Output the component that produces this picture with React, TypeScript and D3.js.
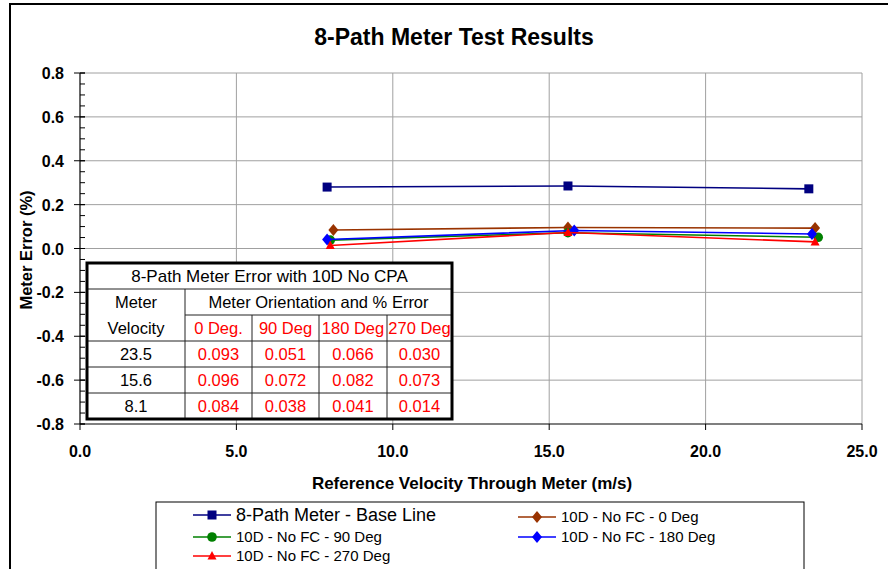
import React from "react";
import * as d3 from "d3";

// axis ticks
const xTicks = [0, 5, 10, 15, 20, 25];
const yTicks = [-0.8, -0.6, -0.4, -0.2, 0, 0.2, 0.4, 0.6, 0.8];

// series (velocity m/s, meter error %)
const baseX = [7.9, 15.6, 23.3];
const baseY = [0.28, 0.285, 0.272];
const deg0X = [8.1, 15.6, 23.5];
const deg0Y = [0.084, 0.096, 0.093];
const deg90X = [8.0, 15.6, 23.6];
const deg90Y = [0.038, 0.072, 0.051];
const deg180X = [7.9, 15.8, 23.4];
const deg180Y = [0.041, 0.082, 0.066];
const deg270X = [8.0, 15.6, 23.5];
const deg270Y = [0.014, 0.073, 0.03];

// table
const tableVelocities = ["23.5", "15.6", "8.1"];
const orientations = ["0 Deg.", "90 Deg", "180 Deg", "270 Deg"];

const FONT = "'Liberation Sans', Arial, sans-serif";
const fmt1 = (v: number) => d3.format(".1f")(v).replace("\u2212", "-");

type Shape = "square" | "diamond" | "circle" | "triangle";

const series: { name: string; xs: number[]; ys: number[]; color: string; shape: Shape }[] = [
  { name: "8-Path Meter - Base Line", xs: baseX, ys: baseY, color: "#000080", shape: "square" },
  { name: "10D - No FC - 0 Deg", xs: deg0X, ys: deg0Y, color: "#993300", shape: "diamond" },
  { name: "10D - No FC - 90 Deg", xs: deg90X, ys: deg90Y, color: "#008000", shape: "circle" },
  { name: "10D - No FC - 180 Deg", xs: deg180X, ys: deg180Y, color: "#0000FF", shape: "diamond" },
  { name: "10D - No FC - 270 Deg", xs: deg270X, ys: deg270Y, color: "#FF0000", shape: "triangle" },
];

function Marker({ shape, x, y, color }: { shape: Shape; x: number; y: number; color: string }) {
  if (shape === "square") return <rect x={x - 4.5} y={y - 4.5} width={9} height={9} fill={color} />;
  if (shape === "circle") return <circle cx={x} cy={y} r={4.8} fill={color} />;
  if (shape === "diamond")
    return <path d={`M${x},${y - 6}L${x + 5},${y}L${x},${y + 6}L${x - 5},${y}Z`} fill={color} />;
  return <path d={`M${x},${y - 5}L${x + 4.5},${y + 3.5}L${x - 4.5},${y + 3.5}Z`} fill={color} />;
}

export default function App() {
  const W = 888, H = 569;
  const left = 80, right = 862, top = 73, bottom = 424;

  const x = d3.scaleLinear().domain([0, 25]).range([left, right]);
  const y = d3.scaleLinear().domain([-0.8, 0.8]).range([bottom, top]);
  const yMinor = y.ticks(32);

  const line = d3.line<[number, number]>().x(d => x(d[0])).y(d => y(d[1]));

  // table layout
  const tL = 87, tT = 263, rowH = 26;
  const colEdges = [87, 185, 252, 319, 387, 452];
  const tB = tT + rowH * 6;
  const rowMid = (i: number) => tT + rowH * i + rowH / 2 + 6;
  const colMid = (j: number) => (colEdges[j] + colEdges[j + 1]) / 2;
  const tableVals = tableVelocities.map((_, r) =>
    series.slice(1).map(s => s.ys[s.ys.length - 1 - r].toFixed(3))
  );

  // legend layout
  const legendItems = [
    { s: series[0], lx: 193, ly: 515, fs: 18 },
    { s: series[1], lx: 518, ly: 517, fs: 15 },
    { s: series[2], lx: 193, ly: 537, fs: 15 },
    { s: series[3], lx: 518, ly: 537, fs: 15 },
    { s: series[4], lx: 193, ly: 556, fs: 15 },
  ];

  return (
    <svg width={W} height={H} style={{ position: "absolute", left: 0, top: 0, background: "#fff" }} fontFamily={FONT}>
      <rect x={0} y={0} width={W} height={H} fill="#fff" />
      <rect x={10} y={4} width={W + 20} height={H + 20} fill="none" stroke="#000" strokeWidth={2} />

      <text x={454} y={45} textAnchor="middle" fontSize={23} fontWeight="bold">8-Path Meter Test Results</text>

      {/* grid */}
      {xTicks.slice(1).map(t => (
        <line key={"gx" + t} x1={x(t)} x2={x(t)} y1={top} y2={bottom} stroke="#a0a0a0" strokeWidth={1} />
      ))}
      {yTicks.slice(1).map(t => (
        <line key={"gy" + t} x1={left} x2={right} y1={y(t)} y2={y(t)} stroke="#a0a0a0" strokeWidth={1} />
      ))}

      {/* axes */}
      <line x1={left} x2={left} y1={top} y2={bottom} stroke="#000" strokeWidth={1.2} />
      <line x1={left} x2={right} y1={bottom} y2={bottom} stroke="#000" strokeWidth={1.2} />
      {yMinor.map(t => (
        <line key={"my" + t} x1={left} x2={left + 5} y1={y(t)} y2={y(t)} stroke="#000" />
      ))}
      {yTicks.map(t => (
        <g key={"ty" + t}>
          <line x1={left - 6} x2={left + 5} y1={y(t)} y2={y(t)} stroke="#000" />
          <text x={64} y={y(t) + 6} textAnchor="end" fontSize={16} fontWeight="bold">{fmt1(t)}</text>
        </g>
      ))}
      {xTicks.map(t => (
        <g key={"tx" + t}>
          <line x1={x(t)} x2={x(t)} y1={bottom} y2={bottom + 6} stroke="#000" />
          <text x={x(t)} y={457} textAnchor="middle" fontSize={16} fontWeight="bold">{fmt1(t)}</text>
        </g>
      ))}
      <text x={472} y={489} textAnchor="middle" fontSize={17} fontWeight="bold">Reference Velocity Through Meter (m/s)</text>
      <text transform="translate(32,250) rotate(-90)" textAnchor="middle" fontSize={16.5} fontWeight="bold">Meter Error (%)</text>

      {/* series */}
      {series.map(s => {
        const pts = s.xs.map((v, i) => [v, s.ys[i]] as [number, number]);
        return (
          <g key={s.name}>
            <path d={line(pts) || ""} fill="none" stroke={s.color} strokeWidth={1.6} />
            {pts.map((p, i) => (
              <Marker key={i} shape={s.shape} x={x(p[0])} y={y(p[1])} color={s.color} />
            ))}
          </g>
        );
      })}

      {/* table */}
      <rect x={tL} y={tT} width={colEdges[5] - tL} height={tB - tT} fill="#fff" />
      <g stroke="#222" strokeWidth={1}>
        <line x1={tL} x2={colEdges[5]} y1={tT + rowH} y2={tT + rowH} />
        <line x1={colEdges[1]} x2={colEdges[5]} y1={tT + rowH * 2} y2={tT + rowH * 2} />
        {[3, 4, 5].map(i => (
          <line key={i} x1={tL} x2={colEdges[5]} y1={tT + rowH * i} y2={tT + rowH * i} />
        ))}
        <line x1={colEdges[1]} x2={colEdges[1]} y1={tT + rowH} y2={tB} />
        {[2, 3, 4].map(j => (
          <line key={j} x1={colEdges[j]} x2={colEdges[j]} y1={tT + rowH * 2} y2={tB} />
        ))}
      </g>
      <rect x={tL} y={tT} width={colEdges[5] - tL} height={tB - tT} fill="none" stroke="#000" strokeWidth={3} />
      <g fontSize={16.5} textAnchor="middle">
        <text x={(tL + colEdges[5]) / 2} y={rowMid(0)} fontSize={17}>8-Path Meter Error with 10D No CPA</text>
        <text x={colMid(0)} y={rowMid(1)}>Meter</text>
        <text x={(colEdges[1] + colEdges[5]) / 2} y={rowMid(1)}>Meter Orientation and % Error</text>
        <text x={colMid(0)} y={rowMid(2)}>Velocity</text>
        {orientations.map((o, j) => (
          <text key={o} x={colMid(j + 1)} y={rowMid(2)} fill="#FF0000">{o}</text>
        ))}
        {tableVelocities.map((v, r) => (
          <g key={v}>
            <text x={colMid(0)} y={rowMid(3 + r)}>{v}</text>
            {tableVals[r].map((val, j) => (
              <text key={j} x={colMid(j + 1)} y={rowMid(3 + r)} fill="#FF0000">{val}</text>
            ))}
          </g>
        ))}
      </g>

      {/* legend */}
      <rect x={156} y={502} width={648} height={90} fill="#fff" stroke="#000" strokeWidth={1} />
      {legendItems.map(({ s, lx, ly, fs }) => (
        <g key={s.name}>
          <line x1={lx} x2={lx + 38} y1={ly} y2={ly} stroke={s.color} strokeWidth={1.6} />
          <Marker shape={s.shape} x={lx + 19} y={ly} color={s.color} />
          <text x={lx + 43} y={ly + fs * 0.36} fontSize={fs}>{s.name}</text>
        </g>
      ))}
    </svg>
  );
}
